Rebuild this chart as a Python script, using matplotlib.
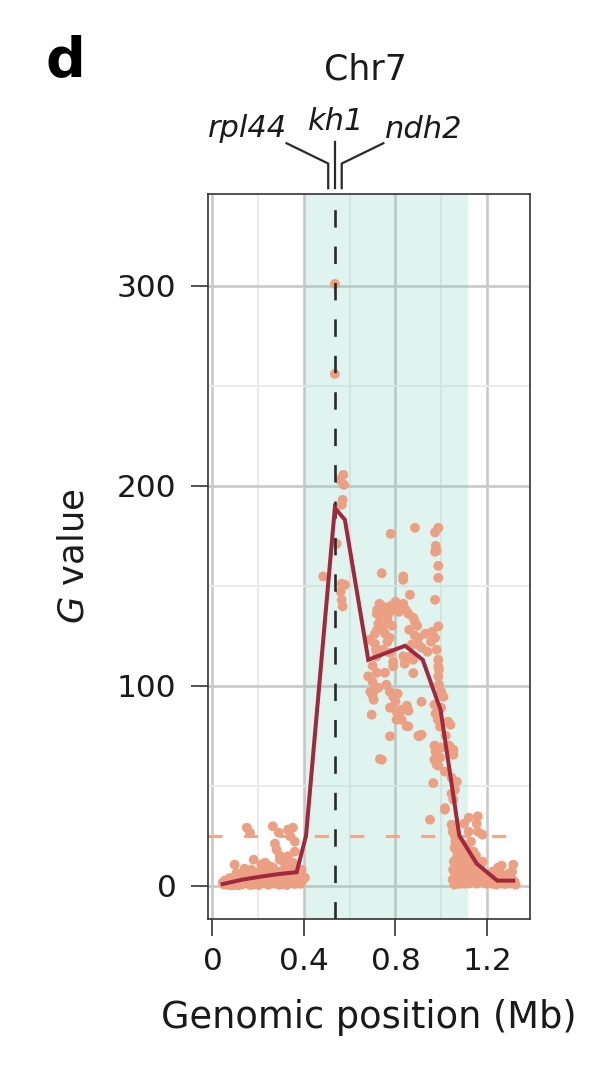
import matplotlib
matplotlib.use("Agg")
import matplotlib.pyplot as plt
import matplotlib.transforms as mtransforms
from matplotlib.ticker import MultipleLocator

plt.rcParams['font.family'] = ['DejaVu Sans']

# ---------------- data ----------------
# low background band, left flank (Mb, G)
left_x = [0.05, 0.06, 0.07, 0.08, 0.09, 0.10, 0.11, 0.12, 0.13, 0.14, 0.15, 0.16, 0.17,
          0.18, 0.19, 0.20, 0.21, 0.22, 0.23, 0.24, 0.25, 0.26, 0.27, 0.28, 0.29, 0.30,
          0.31, 0.32, 0.33, 0.34, 0.35, 0.36, 0.37, 0.38,
          0.055, 0.075, 0.095, 0.115, 0.135, 0.155, 0.175, 0.195, 0.215, 0.235, 0.255,
          0.275, 0.295, 0.315, 0.335, 0.355, 0.375, 0.39,
          0.065, 0.105, 0.145, 0.185, 0.225, 0.265, 0.305, 0.345, 0.385,
          0.085, 0.125, 0.165, 0.205, 0.245, 0.285, 0.325, 0.365, 0.395,
          0.045, 0.112, 0.172, 0.232, 0.292, 0.312, 0.348, 0.372, 0.262, 0.202,
          0.097, 0.15, 0.164, 0.264, 0.29, 0.33, 0.352, 0.34, 0.36, 0.273, 0.294, 0.33,
          0.18, 0.213, 0.17, 0.155, 0.25, 0.294, 0.33, 0.352, 0.404, 0.13, 0.36, 0.31,
          0.14, 0.23, 0.32, 0.21, 0.28]
left_g = [0.5, 1.2, 0.3, 2.0, 1.0, 0.4, 2.5, 1.1, 0.6, 3.0, 1.4, 0.8, 2.2,
          0.5, 3.4, 1.6, 0.9, 2.8, 1.3, 0.7, 3.6, 2.1, 1.0, 4.0, 1.8, 0.6,
          3.2, 2.4, 1.2, 4.5, 2.0, 0.8, 3.0, 1.5,
          2.6, 3.8, 4.2, 0.2, 4.8, 5.5, 3.9, 6.0, 4.6, 5.2, 6.5,
          5.8, 7.0, 6.2, 7.5, 6.8, 5.5, 8.0,
          1.8, 6.2, 2.9, 1.2, 8.4, 9.0, 2.6, 9.5, 0.9,
          0.2, 1.9, 0.3, 3.1, 0.4, 2.2, 0.3, 4.8, 2.7,
          1.6, 0.9, 5.0, 3.3, 0.4, 7.8, 2.9, 1.4, 4.1, 0.3,
          10.5, 29.0, 26.5, 29.7, 26.5, 28.0, 29.0, 24.7, 22.0, 21.0, 15.0, 14.7,
          13.0, 10.5, 8.0, 7.0, 9.7, 13.0, 10.5, 11.5, 4.0, 6.0, 17.0, 12.0,
          8.5, 11.5, 9.0, 7.5, 18.0]

# peak around kh1
peak_x = [0.535, 0.535, 0.572, 0.557, 0.575, 0.569, 0.565, 0.543, 0.484, 0.565, 0.579,
          0.565, 0.569, 0.56]
peak_g = [301, 256, 205.5, 203, 200.5, 193, 190.5, 171, 154.7, 151, 150.5, 143, 139.7, 147]

# main cloud
mid_x = [0.718, 0.74, 0.834, 0.834, 0.973, 0.98, 0.987, 0.987, 0.863, 0.973,
         0.779, 0.885, 0.987, 0.973, 0.976,
         0.72, 0.73, 0.74, 0.75, 0.76, 0.77, 0.78, 0.79, 0.73, 0.76,
         0.834, 0.805, 0.856, 0.878, 0.885, 0.987, 0.82, 0.845,
         0.71, 0.71, 0.715, 0.72, 0.755, 0.765, 0.775, 0.885, 0.90, 0.93, 0.973, 0.87,
         0.90, 0.98, 0.863, 0.776, 0.834,
         0.718, 0.79, 0.79, 0.84, 0.877, 0.681, 0.718, 0.754, 0.878, 0.987, 0.987, 0.987,
         0.99, 1.0, 1.01, 0.69, 0.70, 0.705, 0.71, 0.76, 0.775, 0.79, 0.914, 0.696, 0.776,
         0.805, 0.827, 0.857, 0.805, 0.827, 0.856, 0.776, 0.90, 0.732, 0.74,
         0.97, 0.975, 0.985, 0.995, 0.97, 0.975, 1.0, 1.035, 1.045, 0.97, 0.987,
         1.03, 1.04, 0.914, 0.973, 0.995, 1.053, 1.053, 0.98, 1.016, 1.045, 1.068, 0.965,
         1.045, 1.053, 1.016, 0.951, 1.053, 1.12, 1.155, 0.904, 0.849, 0.82, 0.685, 0.70,
         0.725, 0.745, 0.765, 0.785, 0.8, 0.815, 0.86, 0.895, 0.915, 0.94, 0.955, 0.96,
         0.70, 0.725, 0.745, 0.80, 0.81, 0.85, 0.99, 1.0, 1.02, 1.06]
mid_g = [136, 156.3, 154.7, 153, 167, 167.5, 160, 154, 145.5, 143,
         176, 179, 179, 176.7, 170,
         138, 135, 140, 137, 139, 136, 140, 138, 141, 134,
         141, 139, 136, 134, 132, 129.7, 140, 138,
         126, 121, 118, 128, 126, 122, 124, 125, 124, 126, 124, 120.5,
         120.5, 118, 114.7, 116.5, 114.7,
         114.7, 112, 109.7, 111, 113, 104.7, 106.5, 106.5, 106.3, 113, 109.7, 104.7,
         100.5, 97, 94.5, 97, 95, 93, 98, 100.5, 97, 94.5, 92, 85.5, 89,
         87, 88, 87.5, 83, 83, 79.7, 74.7, 75, 63.3, 63,
         90.5, 86, 83, 79.5, 70, 67, 69, 70, 67.5, 63, 60,
         82, 80.5, 75.5, 70, 64, 68, 65.5, 60.5, 57, 54, 52, 51.3,
         46, 43, 38.8, 33, 30, 34, 31, 74.7, 79.7, 87, 123, 110,
         131, 129, 133, 130, 142, 137, 128, 130, 119, 117, 122, 127,
         102, 99, 118, 92, 96, 90, 108, 89, 75, 48]

# right flank
right_x = [1.016, 1.045, 1.05, 1.06, 1.12, 1.16, 1.16, 1.18, 1.068, 1.248, 1.264, 1.315,
           1.10, 1.13, 1.08,
           1.05, 1.055, 1.06, 1.065, 1.07, 1.075, 1.08, 1.085, 1.09, 1.095, 1.10, 1.105,
           1.11, 1.115, 1.12, 1.125, 1.13, 1.135, 1.14, 1.145, 1.15, 1.155, 1.16, 1.165,
           1.17, 1.175, 1.18, 1.185, 1.19, 1.195, 1.20,
           1.052, 1.062, 1.072, 1.082, 1.092, 1.102, 1.112, 1.122, 1.132, 1.142, 1.152,
           1.162, 1.172, 1.182, 1.192,
           1.057, 1.067, 1.077, 1.087, 1.097, 1.107, 1.117, 1.127, 1.137, 1.147, 1.157,
           1.058, 1.074, 1.091, 1.108, 1.124, 1.141, 1.158,
           1.205, 1.21, 1.22, 1.225, 1.23, 1.24, 1.245, 1.25, 1.26, 1.265, 1.27, 1.28,
           1.285, 1.29, 1.30, 1.305, 1.31, 1.32, 1.325, 1.215, 1.255, 1.295]
right_g = [38, 30.5, 27, 24.7, 27, 34.7, 27, 25.5, 18.8, 9, 10, 10.5,
           31, 22, 20,
           3, 12, 6, 18, 2, 9, 15, 4, 21, 7, 1, 13,
           5, 17, 10, 3, 8, 14, 2, 11, 6, 1, 9, 4,
           7, 2, 12, 3, 5, 1, 4,
           8, 22, 11, 1, 16, 5, 19, 2, 12, 6, 15,
           3, 10, 6, 2,
           0.5, 14, 7, 10, 3, 20, 1, 16, 5, 9, 12,
           19, 1, 13, 8, 6, 17, 3,
           2, 5, 1, 7, 3, 0.5, 4, 2, 6, 1, 3, 0.8,
           5, 2, 1, 4, 7, 2, 0.5, 3.5, 1.5, 6]

# windowed mean line
line_x = [0.045, 0.13, 0.21, 0.29, 0.368, 0.409, 0.535, 0.579, 0.681, 0.842, 0.919,
          0.997, 1.079, 1.155, 1.245, 1.315]
line_g = [0.8, 3.0, 4.5, 5.8, 6.7, 25, 189, 183, 113, 120, 113, 88, 25, 11, 2.5, 2.5]

threshold = 25
qtl_start, qtl_end = 0.404, 1.118
gene_pos = 0.535
gene_names = ["rpl44", "kh1", "ndh2"]
x_ticks = [0, 0.4, 0.8, 1.2]
x_tick_labels = ["0", "0.4", "0.8", "1.2"]
y_ticks = [0, 100, 200, 300]

# ---------------- figure ----------------
fig = plt.figure(figsize=(6.14, 10.70), dpi=100)
ax = fig.add_axes([0.3393, 0.1411, 0.5239, 0.6776])

ax.set_xlim(-0.018, 1.388)
ax.set_ylim(-16.7, 346)

ax.xaxis.set_minor_locator(MultipleLocator(0.2))
ax.yaxis.set_minor_locator(MultipleLocator(50))
ax.set_xticks(x_ticks)
ax.set_xticklabels(x_tick_labels)
ax.set_yticks(y_ticks)
ax.grid(which='major', color='#c9c9c9', lw=1.9, zorder=0)
ax.grid(which='minor', color='#ebebeb', lw=1.4, zorder=0)
ax.set_axisbelow(True)

ax.axvspan(qtl_start, qtl_end, color='#7fd3bd', alpha=0.24, lw=0, zorder=1)

ax.axhline(threshold, xmin=0, xmax=(1.322 + 0.018) / 1.406, color='#eea88c', lw=2.2,
           dashes=(4.6, 7.0), zorder=2)
ax.axvline(gene_pos, color='#2a2a2a', lw=1.9, dashes=(6.6, 7.2), zorder=4)

for xs, gs in [(left_x, left_g), (peak_x, peak_g), (mid_x, mid_g), (right_x, right_g)]:
    ax.scatter(xs, gs, s=50, color='#eba083', edgecolors='none', zorder=3)

ax.plot(line_x, line_g, color='#a0293d', lw=2.9, zorder=5, solid_joinstyle='miter')

for sp in ax.spines.values():
    sp.set_color('#333333')
    sp.set_linewidth(1.2)

ax.tick_params(axis='both', which='major', direction='out', length=12, width=1.2,
               color='#333333', labelsize=22.5, labelcolor='#1a1a1a')
ax.tick_params(axis='x', pad=8.5)
ax.tick_params(axis='y', pad=11)
ax.tick_params(which='minor', length=0)

ax.set_xlabel("Genomic position (Mb)", fontsize=26.5, color='#1a1a1a')
ax.xaxis.set_label_coords(0.5, -0.11)
ax.set_ylabel(r"$\mathit{G}$ value", fontsize=25.5, color='#1a1a1a')
ax.yaxis.set_label_coords(-0.365, 0.5)

# gene annotation connectors
trans = mtransforms.blended_transform_factory(ax.transData, ax.transAxes)
ax.plot([0.506, 0.506, 0.324], [1.008, 1.042, 1.07], transform=trans, color='#2a2a2a',
        lw=1.6, clip_on=False)
ax.plot([gene_pos, gene_pos], [1.008, 1.072], transform=trans, color='#2a2a2a',
        lw=1.6, clip_on=False)
ax.plot([0.565, 0.565, 0.747], [1.008, 1.042, 1.07], transform=trans, color='#2a2a2a',
        lw=1.6, clip_on=False)
ax.text(0.153, 1.0786, gene_names[0], transform=trans, ha='center', va='baseline',
        fontsize=22, style='italic', color='#1a1a1a')
ax.text(0.542, 1.088, gene_names[1], transform=trans, ha='center', va='baseline',
        fontsize=22, style='italic', color='#1a1a1a')
ax.text(0.925, 1.0772, gene_names[2], transform=trans, ha='center', va='baseline',
        fontsize=22, style='italic', color='#1a1a1a')

fig.text(365 / 614, 1 - 79 / 1070, "Chr7", ha='center', va='baseline', fontsize=25,
         color='#1a1a1a')
fig.text(46 / 614, 1 - 76 / 1070, "d", ha='left', va='baseline', fontsize=40,
         fontweight='bold', color='#000000')

fig.savefig("out.png", dpi=100)
